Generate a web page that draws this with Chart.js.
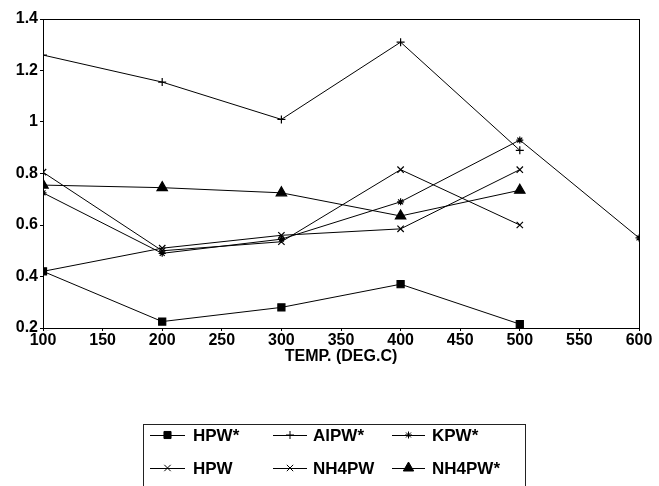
<!DOCTYPE html>
<html>
<head>
<meta charset="utf-8">
<script src="https://cdn.jsdelivr.net/npm/chart.js@4.4.1/dist/chart.umd.min.js"></script>
<style>
  html, body { margin: 0; padding: 0; background: #fff; }
  canvas { display: block; }
</style>
</head>
<body>
<canvas id="chart" width="659" height="486"></canvas>
<script>
// Dados
const temps = [100, 200, 300, 400, 500, 600];
const hpwStar   = [0.42, 0.225, 0.28, 0.37, 0.215, null];
const alpwStar  = [1.26, 1.155, 1.01, 1.31, 0.89, null];
const kpwStar   = [0.725, 0.49, 0.545, 0.69, 0.93, 0.55];
const hpw       = [0.805, 0.50, 0.535, 0.815, 0.60, null];
const nh4pw     = [0.42, 0.51, 0.56, 0.585, 0.815, null];
const nh4pwStar = [0.755, 0.745, 0.725, 0.635, 0.735, null];

const xTicks = [100, 150, 200, 250, 300, 350, 400, 450, 500, 550, 600];
const yTicks = [0.2, 0.4, 0.6, 0.8, 1, 1.2, 1.4];

const FONT = "'Liberation Sans', Arial, sans-serif";
Chart.defaults.font.family = FONT;
Chart.defaults.font.weight = 'bold';
Chart.defaults.color = '#000';

function toPoints(values) {
    return temps.map((t, i) => ({ x: t, y: values[i] })).filter(p => p.y !== null);
}

function series(label, values, style, radius) {
    return {
        label: label,
        data: toPoints(values),
        borderColor: '#000',
        backgroundColor: '#000',
        borderWidth: 1,
        pointStyle: style,
        pointRadius: radius,
        pointBorderWidth: 1.2,
        pointBorderColor: '#000',
        pointBackgroundColor: '#000',
        tension: 0
    };
}

const datasets = [
    series('HPW*', hpwStar, 'rect', 5),
    series('AlPW*', alpwStar, 'cross', 4),
    series('KPW*', kpwStar, 'star', 3.5),
    series('HPW', hpw, 'crossRot', 4.5),
    series('NH4PW', nh4pw, 'crossRot', 4.5),
    series('NH4PW*', nh4pwStar, 'triangle', 6)
];

// Moldura da área do gráfico
const framePlugin = {
    id: 'frame',
    afterDraw(chart) {
        const { ctx, chartArea: a } = chart;
        ctx.save();
        ctx.strokeStyle = '#000';
        ctx.lineWidth = 1;
        ctx.strokeRect(a.left + 0.5, a.top + 0.5, a.right - a.left, a.bottom - a.top);
        ctx.restore();
    }
};

// Legenda em caixa, em duas linhas
const legendPlugin = {
    id: 'boxLegend',
    afterDraw(chart) {
        const ctx = chart.ctx;
        const cols = [
            { x0: 150, x1: 185, tx: 193 },
            { x0: 273, x1: 307, tx: 313 },
            { x0: 392, x1: 425, tx: 432 }
        ];
        const rows = [435, 468];
        ctx.save();
        ctx.strokeStyle = '#222';
        ctx.lineWidth = 1;
        ctx.strokeRect(143.5, 424.5, 382, 80);
        ctx.font = 'bold 17px ' + FONT;
        ctx.textBaseline = 'middle';
        ctx.fillStyle = '#000';
        chart.data.datasets.forEach((ds, i) => {
            const c = cols[i % 3];
            const y = rows[Math.floor(i / 3)];
            ctx.strokeStyle = '#000';
            ctx.lineWidth = 1;
            ctx.beginPath();
            ctx.moveTo(c.x0, y + 0.5);
            ctx.lineTo(c.x1, y + 0.5);
            ctx.stroke();
            Chart.helpers.drawPoint(ctx, {
                pointStyle: ds.pointStyle,
                radius: ds.pointRadius,
                borderWidth: 1.2
            }, (c.x0 + c.x1) / 2, y);
            ctx.fillText(ds.label, c.tx, y + 1);
        });
        ctx.restore();
    }
};

new Chart(document.getElementById('chart'), {
    type: 'line',
    data: { datasets: datasets },
    options: {
        responsive: false,
        animation: false,
        layout: { padding: { left: 0, right: 20, top: 19, bottom: 116 } },
        plugins: {
            legend: { display: false },
            tooltip: { enabled: false }
        },
        scales: {
            x: {
                type: 'linear',
                min: 100,
                max: 600,
                afterBuildTicks: s => { s.ticks = xTicks.map(v => ({ value: v })); },
                afterFit: s => { s.height = 42; },
                grid: { drawOnChartArea: false, drawTicks: true, tickLength: 3, color: '#000' },
                border: { display: true, color: '#000', width: 1 },
                ticks: { font: { size: 16 }, padding: 0, maxRotation: 0, autoSkip: false },
                title: {
                    display: true,
                    text: 'TEMP. (DEG.C)',
                    font: { size: 16 },
                    padding: { top: 0, bottom: 4 }
                }
            },
            y: {
                min: 0.2,
                max: 1.4,
                afterBuildTicks: s => { s.ticks = yTicks.map(v => ({ value: v })); },
                afterFit: s => { s.width = 43; },
                grid: { drawOnChartArea: false, drawTicks: true, tickLength: 3, color: '#000' },
                border: { display: true, color: '#000', width: 1 },
                ticks: { font: { size: 16 }, padding: 2, callback: v => String(v) }
            }
        }
    },
    plugins: [framePlugin, legendPlugin]
});
</script>
</body>
</html>
